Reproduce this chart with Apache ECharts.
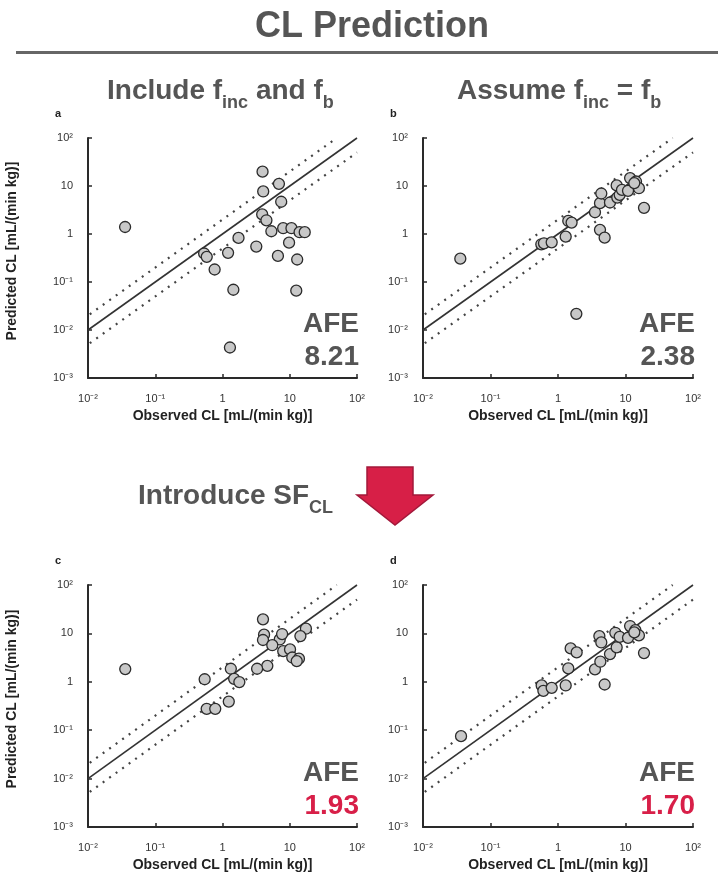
<!DOCTYPE html>
<html>
<head>
<meta charset="utf-8">
<script src="https://cdn.jsdelivr.net/npm/echarts@6/dist/echarts.min.js"></script>
<style>
  html, body { margin: 0; padding: 0; background: #ffffff; }
  #chart { width: 718px; height: 895px; }
</style>
</head>
<body>
<div id="chart"></div>
<script>
// Observed vs predicted clearance, [observed, predicted] in mL/(min kg)
const panelA = [[0.0356,1.40],[3.94,19.9],[4.03,7.7],[6.9,11.1],[7.46,4.7],[3.89,2.56],[4.5,1.93],[5.33,1.14],[7.98,1.32],[10.6,1.32],[14.0,1.09],[16.7,1.09],[9.77,0.66],[6.67,0.35],[12.9,0.294],[3.18,0.548],[1.73,0.83],[1.21,0.405],[0.533,0.392],[0.583,0.334],[0.764,0.182],[1.45,0.069],[12.5,0.066],[1.29,0.00432]];
const panelB = [[0.0357,0.306],[1.87,0.0217],[0.566,0.61],[0.62,0.64],[0.806,0.67],[1.30,0.88],[1.42,1.87],[1.59,1.73],[3.53,2.84],[4.19,1.22],[4.91,0.84],[4.19,4.39],[4.38,6.98],[5.89,4.53],[7.56,5.75],[8.2,6.55],[7.4,10.3],[8.87,8.3],[10.9,7.95],[11.7,14.6],[14.3,12.4],[15.8,9.0],[18.8,3.51],[13.5,11.5]];
const panelC = [[0.0358,1.83],[4.0,19.5],[4.15,9.4],[4.0,7.3],[7.1,7.5],[7.7,9.7],[5.5,5.7],[17.4,12.5],[14.4,8.8],[8.0,4.3],[10.1,4.67],[10.9,3.18],[13.7,3.0],[12.7,2.68],[4.64,2.14],[3.27,1.86],[1.33,1.86],[1.49,1.15],[1.78,0.985],[0.543,1.13],[0.582,0.276],[0.78,0.276],[1.24,0.39]];
const panelD = [[0.0366,0.0752],[0.573,0.84],[0.607,0.65],[0.806,0.75],[1.30,0.84],[1.42,1.89],[1.54,4.9],[1.89,4.05],[3.53,1.8],[4.24,2.6],[4.91,0.88],[4.1,8.8],[4.38,6.5],[5.89,3.74],[7.4,5.13],[7.07,10.3],[8.2,8.5],[10.9,8.1],[11.7,14.2],[14.0,11.7],[15.8,9.1],[18.8,3.92],[13.5,10.5]];

const panelLetters = ['a', 'b', 'c', 'd'];
const afeValues = ['8.21', '2.38', '1.93', '1.70'];

// log axis decades and their labels
const tickValues = [0.001, 0.01, 0.1, 1, 10, 100];
const tickLabels = ['10\u207B\u00B3', '10\u207B\u00B2', '10\u207B\u00B9', '1', '10', '10\u00B2'];

// identity line and two-fold error band
const foldRatios = [1, 2, 0.5];

const FAMILY = "'Liberation Sans', Arial, Helvetica, sans-serif";
const GRAY = '#555555';
const RED = '#D81F48';

const panels = [panelA, panelB, panelC, panelD];
const grids = [
  { left: 88, top: 138, width: 269, height: 240 },
  { left: 423, top: 138, width: 270, height: 240 },
  { left: 88, top: 585, width: 269, height: 242 },
  { left: 423, top: 585, width: 270, height: 242 }
];

function boldFont(size) {
  return 'bold ' + size + 'px ' + FAMILY;
}

function tickText(v) {
  const e = Math.round(Math.log10(v));
  const i = tickValues.findIndex(t => Math.round(Math.log10(t)) === e);
  return i >= 0 ? tickLabels[i] : '';
}

function axisCommon(name, gap, rotate) {
  return {
    type: 'log',
    logBase: 10,
    min: 0.001,
    max: 100,
    interval: 1,
    name: name,
    nameLocation: 'middle',
    nameGap: gap,
    nameRotate: rotate,
    nameTextStyle: { fontFamily: FAMILY, fontWeight: 'bold', fontSize: 14, color: '#222' },
    axisLine: { show: true, onZero: false, lineStyle: { color: '#2a2a2a', width: 2 } },
    axisTick: { show: true, inside: true, length: 4, lineStyle: { color: '#2a2a2a', width: 1.5 } },
    minorTick: { show: false },
    splitLine: { show: false },
    axisLabel: { fontFamily: FAMILY, fontSize: 11, color: '#333', formatter: tickText }
  };
}

const xAxes = [], yAxes = [], series = [];
panels.forEach((pts, i) => {
  const x = axisCommon('Observed CL [mL/(min kg)]', 31, 0);
  x.min = 0.01;
  x.gridIndex = i;
  x.axisLabel.margin = 15;
  xAxes.push(x);
  const y = axisCommon('Predicted CL [mL/(min kg)]', 69, 90);
  y.gridIndex = i;
  y.axisLabel.margin = 15;
  y.name = (i % 2 === 0) ? y.name : '';
  y.nameTextStyle.padding = [0, 0, 0, 14];
  yAxes.push(y);

  foldRatios.forEach((r) => {
    const x0 = r === 1 ? 0.01 : 0.0085;
    const x1 = Math.min(100, 100 / r);
    series.push({
      type: 'line',
      xAxisIndex: i, yAxisIndex: i,
      data: [[x0, x0 * r], [x1, x1 * r]],
      symbol: 'none',
      clip: false,
      silent: true,
      z: 2,
      lineStyle: r === 1
        ? { color: '#333', width: 1.6, type: 'solid' }
        : { color: '#444', width: 2.2, type: [2, 6] }
    });
  });

  series.push({
    type: 'scatter',
    xAxisIndex: i, yAxisIndex: i,
    data: pts,
    symbol: 'circle',
    symbolSize: 11,
    z: 5,
    itemStyle: { color: '#c8c8c8', borderColor: '#2b2b2b', borderWidth: 1.3, opacity: 1 }
  });
});

// heading text with subscripts: a tall spacer sets the line box,
// main text hugs the top and subscripts sit at the bottom
const headRich = {
  m: { font: boldFont(28), lineHeight: 28, fill: GRAY, verticalAlign: 'top' },
  s: { font: boldFont(18), lineHeight: 18, fill: GRAY, verticalAlign: 'bottom' },
  z: { font: boldFont(2), lineHeight: 35, fill: GRAY, verticalAlign: 'top' }
};

const graphics = [
  { type: 'text', x: 372, y: 9, style: { text: 'CL Prediction', align: 'center', font: boldFont(36), fill: GRAY } },
  { type: 'rect', shape: { x: 16, y: 51, width: 702, height: 3 }, style: { fill: '#666' } },
  { type: 'text', x: 107, y: 77, style: { text: '{z|\u200B}{m|Include f}{s|inc}{m| and f}{s|b}', rich: headRich } },
  { type: 'text', x: 457, y: 77, style: { text: '{z|\u200B}{m|Assume f}{s|inc}{m| = f}{s|b}', rich: headRich } },
  { type: 'text', x: 138, y: 482, style: { text: '{z|\u200B}{m|Introduce SF}{s|CL}', rich: headRich } },
  { type: 'polygon', shape: { points: [[367, 467], [413, 467], [413, 495], [433, 495], [395, 525], [357, 495], [367, 495]] },
    style: { fill: '#D71F47', stroke: '#A3183A', lineWidth: 1.5 } }
];

grids.forEach((g, i) => {
  graphics.push({ type: 'text', x: g.left - 33, y: g.top - 30, style: { text: panelLetters[i], font: boldFont(11), fill: '#222' } });
  const right = g.left + g.width + 2;
  const top = g.top + g.height - 68;
  graphics.push({ type: 'text', x: right, y: top, style: { text: 'AFE', align: 'right', font: boldFont(28), fill: GRAY } });
  graphics.push({ type: 'text', x: right, y: top + 33, style: { text: afeValues[i], align: 'right', font: boldFont(28), fill: i >= 2 ? RED : GRAY } });
});

const chart = echarts.init(document.getElementById('chart'), null, { renderer: 'canvas' });
chart.setOption({
  backgroundColor: '#ffffff',
  animation: false,
  grid: grids,
  xAxis: xAxes,
  yAxis: yAxes,
  series: series,
  graphic: graphics
});
</script>
</body>
</html>
